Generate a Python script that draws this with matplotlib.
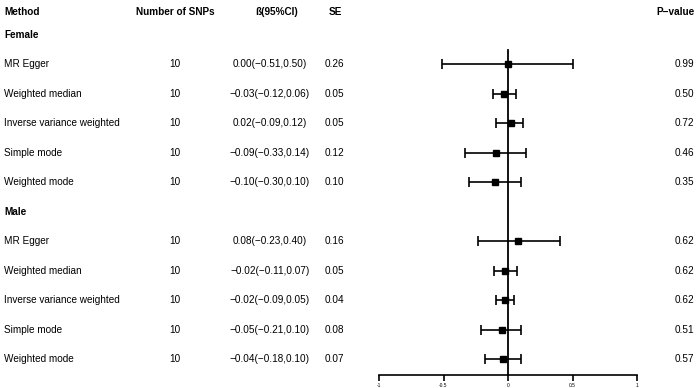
import matplotlib.pyplot as plt
import matplotlib.transforms as mtransforms

plt.rcParams['font.family'] = ['Liberation Sans', 'DejaVu Sans']

groups = ['Female', 'Male']
methods = ['MR Egger', 'Weighted median', 'Inverse variance weighted',
           'Simple mode', 'Weighted mode']
n_snps = [10, 10, 10, 10, 10, 10, 10, 10, 10, 10]
beta = [0.00, -0.03, 0.02, -0.09, -0.10, 0.08, -0.02, -0.02, -0.05, -0.04]
lower = [-0.51, -0.12, -0.09, -0.33, -0.30, -0.23, -0.11, -0.09, -0.21, -0.18]
upper = [0.50, 0.06, 0.12, 0.14, 0.10, 0.40, 0.07, 0.05, 0.10, 0.10]
se = [0.26, 0.05, 0.05, 0.12, 0.10, 0.16, 0.05, 0.04, 0.08, 0.07]
pval = [0.99, 0.50, 0.72, 0.46, 0.35, 0.62, 0.62, 0.62, 0.51, 0.57]
xticks = [-1, -0.5, 0, 0.5, 1]

W, H = 699, 388
fig = plt.figure(figsize=(W / 100, H / 100), dpi=100)

# forest panel: x from -1 at px 379 to 1 at px 637, y in pixel rows (top = 0)
ax = fig.add_axes([379 / W, 0, 258 / W, 1])
ax.set_xlim(-1, 1)
ax.set_ylim(H, 0)
for s in ['top', 'right', 'left']:
    ax.spines[s].set_visible(False)
ax.spines['bottom'].set_position(('data', 375))
ax.spines['bottom'].set_linewidth(1.2)
ax.set_yticks([])
ax.set_xticks(xticks)
ax.set_xticklabels([str(t) for t in xticks], fontsize=3.5)
ax.tick_params(axis='x', length=4, width=1.2, pad=1.5)

# row positions
header_y = 12
group_y = [35, 212]
row_y = []
for g in range(2):
    for k in range(5):
        row_y.append(group_y[g] + 29 + 29.6 * k)

ax.plot([0, 0], [50, 375], color='black', lw=1.3, zorder=1)
ax.errorbar(beta, row_y,
            xerr=[[b - l for b, l in zip(beta, lower)],
                  [u - b for b, u in zip(beta, upper)]],
            fmt='s', color='black', ms=5, capsize=3.5, elinewidth=1.2,
            capthick=1.2, zorder=3)

tr = mtransforms.blended_transform_factory(fig.transFigure, ax.transData)
fs = 7.2

def put(xpx, y, s, ha='left', bold=False):
    ax.text(xpx / W, y, s, transform=tr, ha=ha, va='center', fontsize=fs,
            fontweight='bold' if bold else 'normal', clip_on=False)

put(4, header_y, 'Method', bold=True)
put(175, header_y, 'Number of SNPs', ha='center', bold=True)
put(277, header_y, 'ß(95%CI)', ha='center', bold=True)
put(335, header_y, 'SE', ha='center', bold=True)
put(695, header_y, 'P\u2212value', ha='right', bold=True)

for g in range(2):
    put(4, group_y[g], groups[g], bold=True)

def fmt(v):
    return ('%.2f' % v).replace('-', '\u2212')

for i, y in enumerate(row_y):
    put(4, y, methods[i % 5])
    put(175, y, str(n_snps[i]), ha='center')
    put(270, y, '%s(%s,%s)' % (fmt(beta[i]), fmt(lower[i]), fmt(upper[i])), ha='center')
    put(334, y, fmt(se[i]), ha='center')
    put(684, y, fmt(pval[i]), ha='center')

fig.savefig('out.png', dpi=100)
